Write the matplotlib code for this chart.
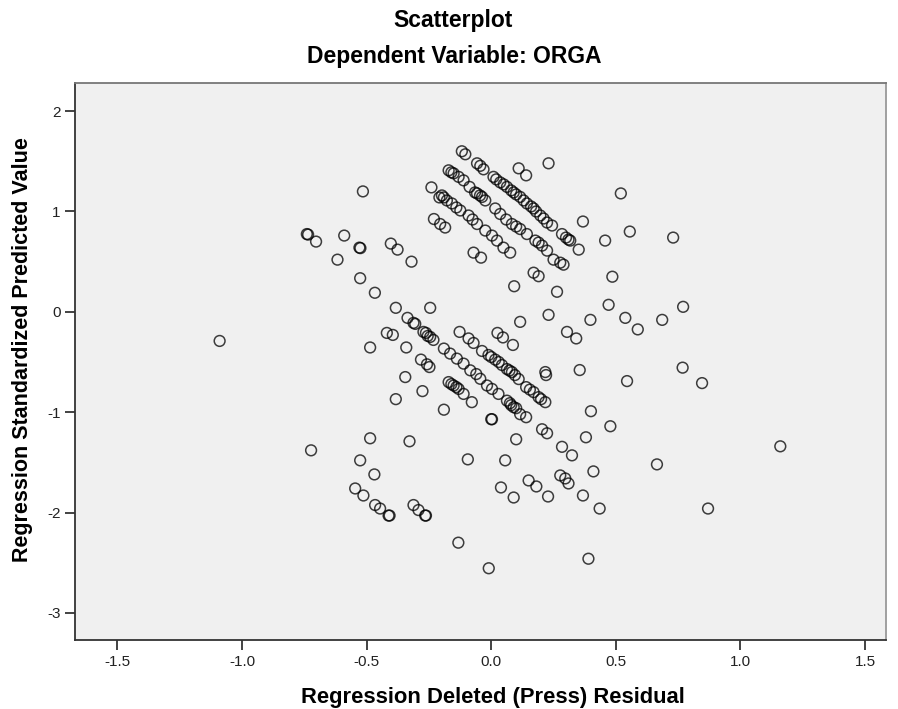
import matplotlib.pyplot as plt

# Regression Deleted (Press) Residual (x) vs Regression Standardized Predicted Value (y)
# upper-left scattered points
ul_x = [-0.515, -0.74, -0.735, -0.703, -0.59, -0.529, -0.525, -0.617, -0.403, -0.376,
        -0.32, -0.526, -0.467, -0.383, -0.245, -0.24, -0.208, -0.23, -0.205, -0.185]
ul_y = [1.20, 0.775, 0.77, 0.70, 0.76, 0.64, 0.635, 0.52, 0.68, 0.62,
        0.50, 0.335, 0.19, 0.04, 0.04, 1.24, 1.14, 0.925, 0.875, 0.84]

# left / lower-left points
ll_x = [-0.336, -0.312, -0.305, -0.419, -0.395, -1.09, -0.272, -0.262, -0.245, -0.232,
        -0.255, -0.486, -0.341, -0.282, -0.258, -0.248, -0.345, -0.276, -0.383, -0.19,
        -0.486, -0.328, -0.723, -0.526, -0.469, -0.546, -0.513, -0.466, -0.446, -0.412,
        -0.408, -0.312, -0.292, -0.265, -0.262]
ll_y = [-0.06, -0.11, -0.12, -0.21, -0.23, -0.29, -0.20, -0.21, -0.25, -0.28,
        -0.24, -0.355, -0.355, -0.476, -0.523, -0.55, -0.65, -0.79, -0.87, -0.975,
        -1.26, -1.29, -1.38, -1.48, -1.62, -1.76, -1.83, -1.925, -1.96, -2.03,
        -2.03, -1.925, -1.975, -2.03, -2.03]

# bottom middle points
bm_x = [-0.094, 0.056, 0.039, 0.09, 0.15, 0.181, 0.228, 0.277, 0.297, 0.31,
        0.41, 0.368, 0.435, 0.39, -0.132, -0.01]
bm_y = [-1.47, -1.48, -1.75, -1.85, -1.68, -1.74, -1.84, -1.63, -1.66, -1.71,
        -1.59, -1.83, -1.96, -2.46, -2.30, -2.555]

# lower band (around -0.2 .. -1.1)
lb_x = [0.23, 0.116, 0.398, 0.471, 0.304, 0.341, 0.025, 0.047, 0.087, -0.127,
        -0.091, -0.071,
        -0.037, -0.011, 0.016, 0.043, 0.063, 0.083, 0.11, 0.14, 0.17, 0.19, 0.217,
        0.0, 0.03, 0.073, 0.095, 0.155, 0.2,
        -0.19, -0.165, -0.138, -0.111, -0.084, -0.044, -0.017, 0.003, 0.029, 0.063,
        0.09, 0.116, 0.14, -0.06, 0.075, 0.1, 0.08,
        -0.171, -0.151, -0.131, -0.111, -0.078, -0.16, -0.14,
        0.003, 0.0, 0.217, 0.22, 0.355, 0.10, 0.204, 0.224, 0.284, 0.324,
        0.40, 0.478, 0.38]
lb_y = [-0.03, -0.10, -0.08, 0.07, -0.20, -0.265, -0.21, -0.255, -0.33, -0.20,
        -0.265, -0.31,
        -0.39, -0.43, -0.476, -0.53, -0.57, -0.60, -0.67, -0.75, -0.80, -0.85, -0.90,
        -0.45, -0.50, -0.585, -0.63, -0.775, -0.87,
        -0.366, -0.416, -0.466, -0.516, -0.583, -0.667, -0.734, -0.768, -0.818, -0.885,
        -0.95, -1.02, -1.05, -0.62, -0.91, -0.96, -0.93,
        -0.70, -0.734, -0.768, -0.818, -0.90, -0.72, -0.75,
        -1.07, -1.07, -0.60, -0.63, -0.58, -1.27, -1.17, -1.21, -1.345, -1.43,
        -0.99, -1.14, -1.25]

# right-hand scattered points
rt_x = [0.77, 0.538, 0.588, 0.686, 0.768, 0.846, 0.545, 1.16, 0.665, 0.87,
        0.52, 0.556, 0.457, 0.73, 0.486]
rt_y = [0.05, -0.06, -0.175, -0.08, -0.556, -0.71, -0.69, -1.34, -1.52, -1.96,
        1.18, 0.80, 0.71, 0.74, 0.35]

# upper band (around 0.2 .. 1.6)
ub_x = [-0.118, -0.104, -0.057, -0.044, -0.031, 0.11, 0.14, 0.23,
        -0.171, -0.151, -0.131, -0.111, -0.087, -0.057, -0.037, -0.024, -0.16, -0.065, -0.045,
        0.009, 0.036, 0.063, 0.09, 0.116, 0.143, 0.17, 0.197, 0.224, 0.244, 0.284, 0.317,
        0.351, 0.02, 0.05, 0.08, 0.10, 0.13, 0.16, 0.18, 0.21, 0.30, 0.31,
        -0.198, -0.178, -0.158, -0.124, -0.091, -0.057, -0.024, 0.003, 0.023, 0.049,
        0.076, -0.19, -0.14, -0.075,
        0.016, 0.036, 0.083, 0.116, 0.143, 0.177, 0.204, 0.224, 0.25, 0.277, 0.29,
        0.06, 0.10, 0.19,
        -0.071, -0.041, 0.17, 0.19, 0.092, 0.264, 0.368]
ub_y = [1.60, 1.57, 1.48, 1.455, 1.42, 1.43, 1.36, 1.48,
        1.41, 1.38, 1.345, 1.31, 1.245, 1.18, 1.145, 1.11, 1.39, 1.19, 1.16,
        1.345, 1.29, 1.245, 1.19, 1.145, 1.08, 1.03, 0.96, 0.89, 0.86, 0.775, 0.71,
        0.62, 1.32, 1.27, 1.21, 1.17, 1.11, 1.05, 1.00, 0.93, 0.74, 0.72,
        1.16, 1.11, 1.08, 1.01, 0.96, 0.875, 0.81, 0.76, 0.71, 0.64,
        0.59, 1.14, 1.04, 0.92,
        1.03, 0.975, 0.875, 0.825, 0.775, 0.71, 0.66, 0.61, 0.52, 0.49, 0.47,
        0.92, 0.85, 0.69,
        0.59, 0.54, 0.39, 0.355, 0.255, 0.20, 0.90]

resid = ul_x + ll_x + bm_x + lb_x + rt_x + ub_x
pred = ul_y + ll_y + bm_y + lb_y + rt_y + ub_y

xticks = [-1.5, -1.0, -0.5, 0.0, 0.5, 1.0, 1.5]
xtick_labels = ["-1.5", "-1.0", "-0.5", "0.0", "0.5", "1.0", "1.5"]
yticks = [-3, -2, -1, 0, 1, 2]
ytick_labels = ["-3", "-2", "-1", "0", "1", "2"]

plt.rcParams['font.family'] = ['Liberation Sans', 'DejaVu Sans']

fig = plt.figure(figsize=(8.98, 7.09), dpi=100)
ax = fig.add_axes([0.0839, 0.0973, 0.9027, 0.7856])
ax.set_facecolor('#f0f0f0')

ax.scatter(resid, pred, s=60, facecolors='none', edgecolors='black',
           linewidths=1.1, alpha=0.75)

ax.set_xlim(-1.669, 1.584)
ax.set_ylim(-3.27, 2.28)
ax.set_xticks(xticks, xtick_labels)
ax.set_yticks(yticks, ytick_labels)
ax.tick_params(direction='out', length=7, width=1.2, labelsize=11, colors='#222222')

for side in ['left', 'bottom', 'right', 'top']:
    ax.spines[side].set_color('#333333')
    ax.spines[side].set_linewidth(1.3)
ax.spines['top'].set_color('#777777')
ax.spines['right'].set_color('#999999')

# axis titles placed in figure coords to match the reference layout
fig.text(493 / 898, 1 - 698 / 709, "Regression Deleted (Press) Residual",
         ha='center', va='center', fontsize=15.8, fontweight='bold')
fig.text(23 / 898, 1 - 350 / 709, "Regression Standardized Predicted Value",
         ha='center', va='center', rotation=90, fontsize=15.5, fontweight='bold')

fig.text(453 / 898, 1 - 21 / 709, "Scatterplot", ha='center', va='center',
         fontsize=16.5, fontweight='bold')
fig.text(454 / 898, 1 - 56 / 709, "Dependent Variable: ORGA", ha='center', va='center',
         fontsize=16.5, fontweight='bold')

plt.savefig("out.png")
plt.close()
